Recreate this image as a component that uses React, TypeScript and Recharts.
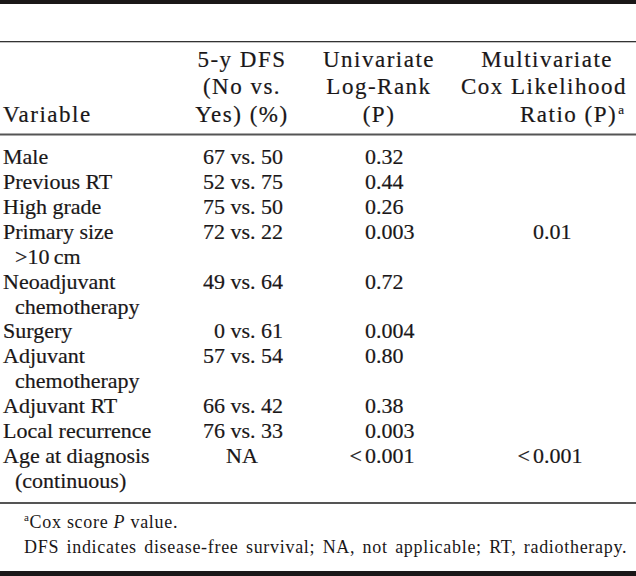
import { ComposedChart, Scatter, XAxis, YAxis, Customized } from 'recharts';

// table content
const variableLines = [
  ['Male'],
  ['Previous RT'],
  ['High grade'],
  ['Primary size', '>10\u2009cm'],
  ['Neoadjuvant', 'chemotherapy'],
  ['Surgery'],
  ['Adjuvant', 'chemotherapy'],
  ['Adjuvant RT'],
  ['Local recurrence'],
  ['Age at diagnosis', '(continuous)'],
];
const dfsNo = [67, 52, 75, 72, 49, 0, 57, 66, 76, null];
const dfsYes = [50, 75, 50, 22, 64, 61, 54, 42, 33, null];
const logRankP = ['0.32', '0.44', '0.26', '0.003', '0.72', '0.004', '0.80', '0.38', '0.003', '<0.001'];
const coxP = [null, null, null, '0.01', null, null, null, null, null, '<0.001'];

const headerVariable = ['Variable'];
const headerDfs = ['5-y DFS', '(No vs.', 'Yes) (%)'];
const headerLogRank = ['Univariate', 'Log-Rank', '(P)'];
const headerCox = ['Multivariate', 'Cox Likelihood', 'Ratio (P)'];
const footnoteCox = ['Cox score ', 'P', ' value.'];
const footnoteAbbrev = 'DFS indicates disease-free survival; NA, not applicable; RT, radiotherapy.';

const W = 636;
const H = 576;
const INK = '#1a1718';
const FONT = "'Liberation Serif', 'Times New Roman', serif";

// one point per printed line of the body
const bodyLines: any[] = [];
let lineNo = 0;
variableLines.forEach((lines, i) => {
  lines.forEach((text, j) => {
    bodyLines.push({
      x: 0,
      line: lineNo + j,
      variable: text,
      indent: j > 0,
      dfs: j > 0 ? null : dfsNo[i] == null ? 'NA' : `${dfsNo[i]} vs. ${dfsYes[i]}`,
      logRank: j > 0 ? null : logRankP[i],
      cox: j > 0 ? null : coxP[i],
    });
  });
  lineNo += lines.length;
});
const lastLine = lineNo - 1;

const PValue = ({ x, y, value }: { x: number; y: number; value: string }) => {
  const less = value.startsWith('<');
  return (
    <g>
      {less && (
        <text x={x - 3} y={y} textAnchor='end'>
          {'<'}
        </text>
      )}
      <text x={x} y={y}>
        {less ? value.slice(1) : value}
      </text>
    </g>
  );
};

const BodyLine = (props: any) => {
  const { cy } = props;
  const p = props.payload ?? props;
  return (
    <g fontFamily={FONT} fontSize={22} fill={INK} stroke={INK} strokeWidth={0.2}>
      <text x={p.indent ? 15 : 3} y={cy}>
        {p.variable}
      </text>
      {p.dfs && (
        <text
          x={p.dfs === 'NA' ? 242 : 283}
          y={cy}
          textAnchor={p.dfs === 'NA' ? 'middle' : 'end'}
        >
          {p.dfs}
        </text>
      )}
      {p.logRank && <PValue x={365} y={cy} value={p.logRank} />}
      {p.cox && <PValue x={533} y={cy} value={p.cox} />}
    </g>
  );
};

// rules, column heads and footnotes
const Frame = () => {
  const headY = [67, 94, 122];
  const head = {
    fontFamily: FONT,
    fontSize: 23,
    fill: INK,
    stroke: INK,
    strokeWidth: 0.2,
    letterSpacing: 1.5,
  };
  return (
    <g>
      <rect x={0} y={0} width={W} height={4} fill={INK} />
      <rect x={0} y={41} width={W} height={1.3} fill='#333' />
      <rect x={0} y={133.5} width={W} height={2} fill='#555' />
      <rect x={0} y={502} width={W} height={2} fill='#555' />
      <rect x={0} y={571} width={W} height={5} fill={INK} />

      <text {...head} x={3} y={headY[2]}>
        {headerVariable[0]}
      </text>
      {headerDfs.map((t, i) => (
        <text key={t} {...head} x={242} y={headY[i]} textAnchor='middle'>
          {t}
        </text>
      ))}
      {headerLogRank.map((t, i) => (
        <text key={t} {...head} x={379} y={headY[i]} textAnchor='middle'>
          {t}
        </text>
      ))}
      {headerCox.map((t, i) => (
        <text key={t} {...head} x={[613, 627, 624][i]} y={headY[i]} textAnchor='end'>
          {t}
          {i === 2 && (
            <tspan dx={1} dy={-8} fontSize={13} letterSpacing={0}>
              a
            </tspan>
          )}
        </text>
      ))}

      <g fontFamily={FONT} fontSize={18} fill={INK} letterSpacing={0.7}>
        <text x={24} y={528}>
          <tspan dy={-7} fontSize={11}>
            a
          </tspan>
          <tspan dy={7}>{footnoteCox[0]}</tspan>
          <tspan fontStyle='italic'>{footnoteCox[1]}</tspan>
          <tspan>{footnoteCox[2]}</tspan>
        </text>
        <text x={24} y={553} style={{ wordSpacing: 2.2 }}>
          {footnoteAbbrev}
        </text>
      </g>
    </g>
  );
};

const App = () => {
  return (
    <div style={{ position: 'absolute', left: 0, top: 0, width: W, height: H, background: '#fff' }}>
      <ComposedChart
        width={W}
        height={H}
        data={bodyLines}
        margin={{ top: 164, right: 0, bottom: H - 488, left: 0 }}
      >
        <XAxis type='number' dataKey='x' domain={[0, 1]} hide />
        <YAxis type='number' dataKey='line' domain={[0, lastLine]} reversed hide />
        <Scatter
          data={bodyLines}
          dataKey='line'
          shape={BodyLine}
          isAnimationActive={false}
        />
        <Customized component={<Frame />} />
      </ComposedChart>
    </div>
  );
};

export default App;
